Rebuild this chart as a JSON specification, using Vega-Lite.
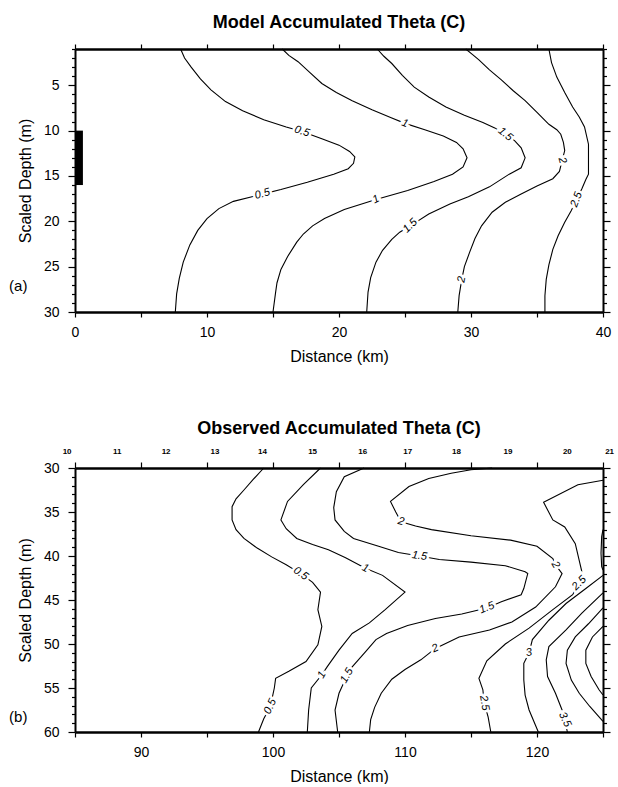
{
  "$schema": "https://vega.github.io/schema/vega-lite/v6.json",
  "padding": {"top": 14, "left": 9, "right": 8, "bottom": 0},
  "background": "white",
  "spacing": 56,
  "datasets": {
    "model": [
      {"c":"0.5","i":1,"km":8.0,"d":1},{"c":"0.5","i":2,"km":8.3,"d":2.0},{"c":"0.5","i":3,"km":8.8,"d":3.0},{"c":"0.5","i":4,"km":9.5,"d":4.3},{"c":"0.5","i":5,"km":10.3,"d":5.5},{"c":"0.5","i":6,"km":11.4,"d":6.8},{"c":"0.5","i":7,"km":12.7,"d":7.8},{"c":"0.5","i":8,"km":14.3,"d":8.8},{"c":"0.5","i":9,"km":16.0,"d":9.6},{"c":"0.5","i":10,"km":17.2,"d":10.1},{"c":"0.5","i":11,"km":18.7,"d":10.9},{"c":"0.5","i":12,"km":20.0,"d":11.6},{"c":"0.5","i":13,"km":20.8,"d":12.3},{"c":"0.5","i":14,"km":21.2,"d":12.9},{"c":"0.5","i":15,"km":21.1,"d":13.6},{"c":"0.5","i":16,"km":20.7,"d":14.2},{"c":"0.5","i":17,"km":19.6,"d":14.8},{"c":"0.5","i":18,"km":17.6,"d":15.7},{"c":"0.5","i":19,"km":15.6,"d":16.5},{"c":"0.5","i":20,"km":14.2,"d":17.0},{"c":"0.5","i":21,"km":12.0,"d":17.8},{"c":"0.5","i":22,"km":10.9,"d":18.6},{"c":"0.5","i":23,"km":10.0,"d":19.7},{"c":"0.5","i":24,"km":9.3,"d":21.0},{"c":"0.5","i":25,"km":8.7,"d":22.6},{"c":"0.5","i":26,"km":8.2,"d":24.5},{"c":"0.5","i":27,"km":7.9,"d":26.3},{"c":"0.5","i":28,"km":7.7,"d":28.0},{"c":"0.5","i":29,"km":7.6,"d":30},
      {"c":"1","i":1,"km":15.7,"d":1},{"c":"1","i":2,"km":16.2,"d":1.7},{"c":"1","i":3,"km":16.9,"d":2.4},{"c":"1","i":4,"km":17.8,"d":3.6},{"c":"1","i":5,"km":18.7,"d":4.8},{"c":"1","i":6,"km":19.8,"d":5.8},{"c":"1","i":7,"km":21.0,"d":6.7},{"c":"1","i":8,"km":22.5,"d":7.7},{"c":"1","i":9,"km":24.0,"d":8.6},{"c":"1","i":10,"km":25.0,"d":9.2},{"c":"1","i":11,"km":26.5,"d":9.9},{"c":"1","i":12,"km":27.9,"d":10.6},{"c":"1","i":13,"km":28.9,"d":11.3},{"c":"1","i":14,"km":29.4,"d":12.0},{"c":"1","i":15,"km":29.7,"d":13.0},{"c":"1","i":16,"km":29.4,"d":14.0},{"c":"1","i":17,"km":28.6,"d":14.8},{"c":"1","i":18,"km":27.2,"d":15.6},{"c":"1","i":19,"km":25.2,"d":16.6},{"c":"1","i":20,"km":22.8,"d":17.6},{"c":"1","i":21,"km":20.4,"d":18.7},{"c":"1","i":22,"km":18.9,"d":19.7},{"c":"1","i":23,"km":18.0,"d":20.5},{"c":"1","i":24,"km":17.3,"d":21.4},{"c":"1","i":25,"km":16.8,"d":22.3},{"c":"1","i":26,"km":16.1,"d":23.9},{"c":"1","i":27,"km":15.6,"d":25.3},{"c":"1","i":28,"km":15.3,"d":26.8},{"c":"1","i":29,"km":15.2,"d":27.8},{"c":"1","i":30,"km":15.0,"d":30},
      {"c":"1.5","i":1,"km":22.9,"d":1},{"c":"1.5","i":2,"km":23.4,"d":1.8},{"c":"1.5","i":3,"km":24.0,"d":2.6},{"c":"1.5","i":4,"km":24.8,"d":3.9},{"c":"1.5","i":5,"km":25.7,"d":5.2},{"c":"1.5","i":6,"km":26.8,"d":6.3},{"c":"1.5","i":7,"km":28.1,"d":7.4},{"c":"1.5","i":8,"km":29.5,"d":8.3},{"c":"1.5","i":9,"km":30.9,"d":9.1},{"c":"1.5","i":10,"km":31.8,"d":9.7},{"c":"1.5","i":11,"km":32.6,"d":10.4},{"c":"1.5","i":12,"km":33.3,"d":11.1},{"c":"1.5","i":13,"km":33.8,"d":11.9},{"c":"1.5","i":14,"km":34.1,"d":13.0},{"c":"1.5","i":15,"km":33.8,"d":14.1},{"c":"1.5","i":16,"km":32.9,"d":14.8},{"c":"1.5","i":17,"km":31.4,"d":16.2},{"c":"1.5","i":18,"km":29.8,"d":17.3},{"c":"1.5","i":19,"km":28.4,"d":18.1},{"c":"1.5","i":20,"km":26.8,"d":19.2},{"c":"1.5","i":21,"km":25.4,"d":20.5},{"c":"1.5","i":22,"km":24.6,"d":21.2},{"c":"1.5","i":23,"km":24.0,"d":22.0},{"c":"1.5","i":24,"km":23.3,"d":23.2},{"c":"1.5","i":25,"km":22.8,"d":24.5},{"c":"1.5","i":26,"km":22.4,"d":26.2},{"c":"1.5","i":27,"km":22.2,"d":27.8},{"c":"1.5","i":28,"km":22.1,"d":30},
      {"c":"2","i":1,"km":29.6,"d":1},{"c":"2","i":2,"km":30.1,"d":1.6},{"c":"2","i":3,"km":30.6,"d":2.2},{"c":"2","i":4,"km":31.4,"d":3.3},{"c":"2","i":5,"km":32.3,"d":4.4},{"c":"2","i":6,"km":33.2,"d":5.6},{"c":"2","i":7,"km":34.1,"d":6.7},{"c":"2","i":8,"km":35.0,"d":8.0},{"c":"2","i":9,"km":35.9,"d":9.3},{"c":"2","i":10,"km":36.5,"d":9.9},{"c":"2","i":11,"km":36.8,"d":10.4},{"c":"2","i":12,"km":37.0,"d":11.3},{"c":"2","i":13,"km":37.1,"d":12.2},{"c":"2","i":14,"km":36.9,"d":13.3},{"c":"2","i":15,"km":36.7,"d":14.5},{"c":"2","i":16,"km":36.2,"d":15.3},{"c":"2","i":17,"km":35.0,"d":16.1},{"c":"2","i":18,"km":33.8,"d":17.0},{"c":"2","i":19,"km":32.6,"d":17.9},{"c":"2","i":20,"km":31.6,"d":19.0},{"c":"2","i":21,"km":30.8,"d":20.5},{"c":"2","i":22,"km":30.3,"d":21.9},{"c":"2","i":23,"km":29.9,"d":23.4},{"c":"2","i":24,"km":29.5,"d":25.0},{"c":"2","i":25,"km":29.3,"d":26.4},{"c":"2","i":26,"km":29.1,"d":28.2},{"c":"2","i":27,"km":29.0,"d":30},
      {"c":"2.5","i":1,"km":35.9,"d":1},{"c":"2.5","i":2,"km":36.1,"d":2.5},{"c":"2.5","i":3,"km":36.5,"d":4.1},{"c":"2.5","i":4,"km":37.1,"d":5.8},{"c":"2.5","i":5,"km":37.7,"d":7.4},{"c":"2.5","i":6,"km":38.2,"d":8.5},{"c":"2.5","i":7,"km":38.6,"d":9.6},{"c":"2.5","i":8,"km":38.9,"d":11.5},{"c":"2.5","i":9,"km":38.9,"d":13.2},{"c":"2.5","i":10,"km":38.9,"d":14.8},{"c":"2.5","i":11,"km":38.7,"d":15.4},{"c":"2.5","i":12,"km":38.4,"d":16.4},{"c":"2.5","i":13,"km":38.0,"d":17.6},{"c":"2.5","i":14,"km":37.6,"d":18.8},{"c":"2.5","i":15,"km":37.1,"d":20.1},{"c":"2.5","i":16,"km":36.6,"d":21.6},{"c":"2.5","i":17,"km":36.2,"d":23.1},{"c":"2.5","i":18,"km":35.9,"d":24.8},{"c":"2.5","i":19,"km":35.7,"d":26.4},{"c":"2.5","i":20,"km":35.6,"d":28.2},{"c":"2.5","i":21,"km":35.6,"d":30}
    ],
    "model_labels": [
      {"label":"0.5","km":17.2,"d":10.1,"angle":18},
      {"label":"0.5","km":14.2,"d":17.0,"angle":-15},
      {"label":"1","km":25.0,"d":9.2,"angle":20},
      {"label":"1","km":22.8,"d":17.6,"angle":-25},
      {"label":"1.5","km":32.6,"d":10.4,"angle":40},
      {"label":"1.5","km":25.4,"d":20.5,"angle":-45},
      {"label":"2","km":36.9,"d":13.3,"angle":75},
      {"label":"2","km":29.3,"d":26.4,"angle":-80},
      {"label":"2.5","km":38.0,"d":17.6,"angle":-70}
    ],
    "source": [{"km0":0,"km1":0.6,"top":10,"bottom":16}],
    "observed": [
      {"c":"0.5","i":1,"km":99.3,"d":30},{"c":"0.5","i":2,"km":98.5,"d":31.3},{"c":"0.5","i":3,"km":97.8,"d":32.5},{"c":"0.5","i":4,"km":97.2,"d":33.5},{"c":"0.5","i":5,"km":96.9,"d":34.4},{"c":"0.5","i":6,"km":96.9,"d":35.9},{"c":"0.5","i":7,"km":97.2,"d":37.0},{"c":"0.5","i":8,"km":97.8,"d":38.0},{"c":"0.5","i":9,"km":98.8,"d":39.1},{"c":"0.5","i":10,"km":99.9,"d":40.1},{"c":"0.5","i":11,"km":101.0,"d":41.0},{"c":"0.5","i":12,"km":102.1,"d":42.0},{"c":"0.5","i":13,"km":103.0,"d":43.0},{"c":"0.5","i":14,"km":103.6,"d":44.1},{"c":"0.5","i":15,"km":103.4,"d":46.1},{"c":"0.5","i":16,"km":103.7,"d":48.0},{"c":"0.5","i":17,"km":103.4,"d":50.1},{"c":"0.5","i":18,"km":102.5,"d":52.0},{"c":"0.5","i":19,"km":101.2,"d":53.1},{"c":"0.5","i":20,"km":100.2,"d":53.9},{"c":"0.5","i":21,"km":100.1,"d":55.0},{"c":"0.5","i":22,"km":99.8,"d":57.1},{"c":"0.5","i":23,"km":99.3,"d":58.5},{"c":"0.5","i":24,"km":98.9,"d":60},
      {"c":"1","i":1,"km":103.6,"d":30},{"c":"1","i":2,"km":102.3,"d":31.9},{"c":"1","i":3,"km":101.1,"d":33.8},{"c":"1","i":4,"km":100.6,"d":35.9},{"c":"1","i":5,"km":101.0,"d":36.9},{"c":"1","i":6,"km":101.8,"d":38.0},{"c":"1","i":7,"km":103.0,"d":38.7},{"c":"1","i":8,"km":104.2,"d":39.3},{"c":"1","i":9,"km":105.5,"d":40.2},{"c":"1","i":10,"km":107.0,"d":41.4},{"c":"1","i":11,"km":108.3,"d":42.2},{"c":"1","i":12,"km":110.0,"d":44.1},{"c":"1","i":13,"km":108.5,"d":46.1},{"c":"1","i":14,"km":107.3,"d":47.6},{"c":"1","i":15,"km":106.0,"d":48.8},{"c":"1","i":16,"km":105.0,"d":50.7},{"c":"1","i":17,"km":104.1,"d":52.6},{"c":"1","i":18,"km":103.7,"d":53.5},{"c":"1","i":19,"km":102.9,"d":55.0},{"c":"1","i":20,"km":102.7,"d":57.5},{"c":"1","i":21,"km":102.6,"d":60},
      {"c":"1.5","i":1,"km":106.9,"d":30},{"c":"1.5","i":2,"km":105.4,"d":31.0},{"c":"1.5","i":3,"km":104.8,"d":32.7},{"c":"1.5","i":4,"km":104.6,"d":34.5},{"c":"1.5","i":5,"km":104.7,"d":35.9},{"c":"1.5","i":6,"km":105.4,"d":37.2},{"c":"1.5","i":7,"km":106.1,"d":38.0},{"c":"1.5","i":8,"km":108.0,"d":38.9},{"c":"1.5","i":9,"km":109.5,"d":39.6},{"c":"1.5","i":10,"km":111.1,"d":40.0},{"c":"1.5","i":11,"km":112.6,"d":40.4},{"c":"1.5","i":12,"km":115.0,"d":40.7},{"c":"1.5","i":13,"km":117.6,"d":41.1},{"c":"1.5","i":14,"km":119.1,"d":41.8},{"c":"1.5","i":15,"km":119.3,"d":42.0},{"c":"1.5","i":16,"km":119.0,"d":43.7},{"c":"1.5","i":17,"km":118.8,"d":44.4},{"c":"1.5","i":18,"km":117.3,"d":45.2},{"c":"1.5","i":19,"km":116.2,"d":45.9},{"c":"1.5","i":20,"km":114.3,"d":46.6},{"c":"1.5","i":21,"km":112.3,"d":47.1},{"c":"1.5","i":22,"km":110.2,"d":47.9},{"c":"1.5","i":23,"km":108.6,"d":48.8},{"c":"1.5","i":24,"km":107.8,"d":49.5},{"c":"1.5","i":25,"km":107.0,"d":50.9},{"c":"1.5","i":26,"km":106.0,"d":52.6},{"c":"1.5","i":27,"km":105.6,"d":53.6},{"c":"1.5","i":28,"km":105.0,"d":55.6},{"c":"1.5","i":29,"km":104.7,"d":57.5},{"c":"1.5","i":30,"km":104.9,"d":60},
      {"c":"2","i":1,"km":116.6,"d":30},{"c":"2","i":2,"km":115.0,"d":30.2},{"c":"2","i":3,"km":113.5,"d":30.6},{"c":"2","i":4,"km":111.8,"d":31.2},{"c":"2","i":5,"km":110.3,"d":32.1},{"c":"2","i":6,"km":108.9,"d":33.8},{"c":"2","i":7,"km":109.3,"d":35.0},{"c":"2","i":8,"km":109.7,"d":36.1},{"c":"2","i":9,"km":110.8,"d":36.6},{"c":"2","i":10,"km":112.0,"d":37.0},{"c":"2","i":11,"km":115.0,"d":37.7},{"c":"2","i":12,"km":118.0,"d":38.2},{"c":"2","i":13,"km":120.0,"d":38.9},{"c":"2","i":14,"km":121.2,"d":40.3},{"c":"2","i":15,"km":121.4,"d":41.0},{"c":"2","i":16,"km":121.9,"d":42.0},{"c":"2","i":17,"km":121.4,"d":43.5},{"c":"2","i":18,"km":119.9,"d":45.8},{"c":"2","i":19,"km":118.1,"d":47.5},{"c":"2","i":20,"km":116.4,"d":48.4},{"c":"2","i":21,"km":114.1,"d":49.2},{"c":"2","i":22,"km":112.3,"d":50.5},{"c":"2","i":23,"km":111.2,"d":51.8},{"c":"2","i":24,"km":110.0,"d":52.9},{"c":"2","i":25,"km":109.0,"d":54.0},{"c":"2","i":26,"km":108.2,"d":55.6},{"c":"2","i":27,"km":107.7,"d":57.2},{"c":"2","i":28,"km":107.4,"d":58.6},{"c":"2","i":29,"km":107.3,"d":60},
      {"c":"2.5a","i":1,"km":125,"d":31.4},{"c":"2.5a","i":2,"km":123.1,"d":31.9},{"c":"2.5a","i":3,"km":120.5,"d":33.9},{"c":"2.5a","i":4,"km":121.2,"d":35.9},{"c":"2.5a","i":5,"km":122.1,"d":36.7},{"c":"2.5a","i":6,"km":122.9,"d":38.6},{"c":"2.5a","i":7,"km":123.4,"d":41.8},{"c":"2.5a","i":8,"km":123.2,"d":43.1},{"c":"2.5a","i":9,"km":122.7,"d":44.4},{"c":"2.5a","i":10,"km":121.2,"d":46.1},{"c":"2.5a","i":11,"km":119.4,"d":48.2},{"c":"2.5a","i":12,"km":117.6,"d":50.0},{"c":"2.5a","i":13,"km":116.2,"d":51.9},{"c":"2.5a","i":14,"km":115.6,"d":53.9},{"c":"2.5a","i":15,"km":115.9,"d":55.2},{"c":"2.5a","i":16,"km":116.0,"d":56.7},{"c":"2.5a","i":17,"km":116.3,"d":58.3},{"c":"2.5a","i":18,"km":116.5,"d":60},
      {"c":"2.5b","i":1,"km":125,"d":37.0},{"c":"2.5b","i":2,"km":124.9,"d":37.8},{"c":"2.5b","i":3,"km":124.85,"d":39.7},{"c":"2.5b","i":4,"km":124.9,"d":41.2},{"c":"2.5b","i":5,"km":125,"d":41.6},
      {"c":"3","i":1,"km":125,"d":42.2},{"c":"3","i":2,"km":123.7,"d":43.7},{"c":"3","i":3,"km":122.2,"d":45.4},{"c":"3","i":4,"km":120.9,"d":47.3},{"c":"3","i":5,"km":119.65,"d":49.5},{"c":"3","i":6,"km":119.4,"d":51.0},{"c":"3","i":7,"km":119.0,"d":52.2},{"c":"3","i":8,"km":119.0,"d":54.1},{"c":"3","i":9,"km":119.1,"d":55.8},{"c":"3","i":10,"km":119.4,"d":57.5},{"c":"3","i":11,"km":120.1,"d":60},
      {"c":"3.5","i":1,"km":125,"d":44.2},{"c":"3.5","i":2,"km":123.4,"d":46.5},{"c":"3.5","i":3,"km":122.2,"d":48.4},{"c":"3.5","i":4,"km":120.9,"d":50.3},{"c":"3.5","i":5,"km":120.7,"d":51.8},{"c":"3.5","i":6,"km":120.8,"d":53.7},{"c":"3.5","i":7,"km":121.4,"d":55.6},{"c":"3.5","i":8,"km":121.9,"d":57.5},{"c":"3.5","i":9,"km":122.1,"d":58.6},{"c":"3.5","i":10,"km":122.3,"d":60},
      {"c":"4","i":1,"km":125,"d":45.9},{"c":"4","i":2,"km":123.9,"d":47.7},{"c":"4","i":3,"km":122.9,"d":49.2},{"c":"4","i":4,"km":122.3,"d":50.7},{"c":"4","i":5,"km":122.2,"d":52.2},{"c":"4","i":6,"km":122.6,"d":54.1},{"c":"4","i":7,"km":123.2,"d":55.6},{"c":"4","i":8,"km":124.0,"d":57.1},{"c":"4","i":9,"km":125,"d":58.8},
      {"c":"4.5","i":1,"km":125,"d":48.0},{"c":"4.5","i":2,"km":124.2,"d":49.2},{"c":"4.5","i":3,"km":123.7,"d":50.7},{"c":"4.5","i":4,"km":123.7,"d":52.2},{"c":"4.5","i":5,"km":124.1,"d":53.7},{"c":"4.5","i":6,"km":124.7,"d":55.2},{"c":"4.5","i":7,"km":125,"d":55.8}
    ],
    "observed_labels": [
      {"label":"0.5","km":102.1,"d":42.0,"angle":35},
      {"label":"0.5","km":99.8,"d":57.1,"angle":-65},
      {"label":"1","km":107.0,"d":41.4,"angle":25},
      {"label":"1","km":103.7,"d":53.5,"angle":-60},
      {"label":"1.5","km":111.1,"d":40.0,"angle":8},
      {"label":"1.5","km":116.2,"d":45.9,"angle":-22},
      {"label":"1.5","km":105.6,"d":53.6,"angle":-60},
      {"label":"2","km":109.7,"d":36.1,"angle":15},
      {"label":"2","km":121.4,"d":41.0,"angle":60},
      {"label":"2","km":112.3,"d":50.5,"angle":-25},
      {"label":"2.5","km":123.2,"d":43.1,"angle":-45},
      {"label":"2.5","km":116.0,"d":56.7,"angle":80},
      {"label":"3","km":119.4,"d":51.0,"angle":-10},
      {"label":"3.5","km":122.1,"d":58.6,"angle":65}
    ],
    "stations": [
      {"station":"10","km":84.4},{"station":"11","km":88.2},{"station":"12","km":91.9},{"station":"13","km":95.6},
      {"station":"14","km":99.2},{"station":"15","km":103.0},{"station":"16","km":106.8},{"station":"17","km":110.2},
      {"station":"18","km":113.9},{"station":"19","km":117.8},{"station":"20","km":122.3},{"station":"21","km":125.5}
    ]
  },
  "vconcat": [
    {
      "width": 528,
      "height": 263,
      "title": {"text": "Model Accumulated Theta (C)"},
      "layer": [
        {
          "data": {"name": "source"},
          "mark": {"type": "rect", "color": "black"},
          "encoding": {
            "x": {"field": "km0", "type": "quantitative", "axis": null},
            "x2": {"field": "km1"},
            "y": {"field": "top", "type": "quantitative", "axis": null},
            "y2": {"field": "bottom"}
          }
        },
        {
          "data": {"name": "model"},
          "mark": {"type": "line", "color": "black", "strokeWidth": 1.1},
          "encoding": {
            "x": {"field": "km", "type": "quantitative",
                  "scale": {"domain": [0, 40], "nice": false, "zero": false},
                  "axis": {"orient": "bottom", "title": "Distance (km)", "values": [0,5,10,15,20,25,30,35,40],
                           "labelExpr": "datum.value % 10 === 0 ? datum.label : ''", "tickSize": 5, "labelPadding": 8,
                           "titlePadding": 9, "domainWidth": 2.5, "labelFlush": false, "labelOverlap": false}},
            "y": {"field": "d", "type": "quantitative",
                  "scale": {"domain": [1, 30], "reverse": true, "nice": false, "zero": false},
                  "axis": {"orient": "left", "title": "Scaled Depth (m)",
                           "values": [1,2,3,4,5,6,7,8,9,10,11,12,13,14,15,16,17,18,19,20,21,22,23,24,25,26,27,28,29,30],
                           "labelExpr": "datum.value % 5 === 0 ? datum.label : ''",
                           "tickSize": {"condition": {"test": "datum.value % 5 === 0", "value": 7}, "value": 3.5},
                           "labelPadding": 9, "titlePadding": 10, "domainWidth": 2, "labelFlush": false, "labelOverlap": false}},
            "detail": {"field": "c"},
            "order": {"field": "i", "type": "quantitative"}
          }
        },
        {
          "data": {"name": "model_labels"},
          "mark": {"type": "text", "font": "Liberation Sans", "fontSize": 11, "fontStyle": "italic", "color": "white", "stroke": "white", "strokeWidth": 5, "baseline": "middle", "align": "center"},
          "encoding": {
            "x": {"field": "km", "type": "quantitative",
                  "axis": {"orient": "top", "title": null, "labels": false, "values": [0,5,10,15,20,25,30,35,40], "tickSize": 5, "domainWidth": 2.5}},
            "y": {"field": "d", "type": "quantitative",
                  "axis": {"orient": "right", "title": null, "labels": false,
                           "values": [1,2,3,4,5,6,7,8,9,10,11,12,13,14,15,16,17,18,19,20,21,22,23,24,25,26,27,28,29,30],
                           "tickSize": {"condition": {"test": "datum.value % 5 === 0", "value": 7}, "value": 3.5}, "domainWidth": 2}},
            "text": {"field": "label"},
            "angle": {"field": "angle", "type": "quantitative", "scale": null}
          }
        },
        {
          "data": {"name": "model_labels"},
          "mark": {"type": "text", "font": "Liberation Sans", "fontSize": 11, "fontStyle": "italic", "color": "black", "baseline": "middle", "align": "center"},
          "encoding": {
            "x": {"field": "km", "type": "quantitative", "axis": null},
            "y": {"field": "d", "type": "quantitative", "axis": null},
            "text": {"field": "label"},
            "angle": {"field": "angle", "type": "quantitative", "scale": null}
          }
        },
        {
          "data": {"values": [{"panel": "(a)"}]},
          "mark": {"type": "text", "font": "Liberation Sans", "fontSize": 15, "color": "black", "baseline": "middle", "align": "center"},
          "encoding": {
            "x": {"datum": -4.3, "type": "quantitative", "axis": null},
            "y": {"datum": 27.1, "type": "quantitative", "axis": null},
            "text": {"field": "panel"}
          }
        }
      ],
      "resolve": {"axis": {"x": "independent", "y": "independent"}}
    },
    {
      "width": 528,
      "height": 264,
      "title": {"text": "Observed Accumulated Theta (C)"},
      "layer": [
        {
          "data": {"name": "observed"},
          "mark": {"type": "line", "color": "black", "strokeWidth": 1.1},
          "encoding": {
            "x": {"field": "km", "type": "quantitative",
                  "scale": {"domain": [85, 125], "nice": false, "zero": false},
                  "axis": {"orient": "bottom", "title": "Distance (km)", "values": [85,90,95,100,105,110,115,120,125],
                           "labelExpr": "datum.value % 10 === 0 ? datum.label : ''", "tickSize": 5, "labelPadding": 8,
                           "titlePadding": 9, "domainWidth": 2.5, "labelFlush": false, "labelOverlap": false}},
            "y": {"field": "d", "type": "quantitative",
                  "scale": {"domain": [30, 60], "reverse": true, "nice": false, "zero": false},
                  "axis": {"orient": "left", "title": "Scaled Depth (m)",
                           "values": [30,31,32,33,34,35,36,37,38,39,40,41,42,43,44,45,46,47,48,49,50,51,52,53,54,55,56,57,58,59,60],
                           "labelExpr": "datum.value % 5 === 0 ? datum.label : ''",
                           "tickSize": {"condition": {"test": "datum.value % 5 === 0", "value": 7}, "value": 3.5},
                           "labelPadding": 9, "titlePadding": 10, "domainWidth": 2, "labelFlush": false, "labelOverlap": false}},
            "detail": {"field": "c"},
            "order": {"field": "i", "type": "quantitative"}
          }
        },
        {
          "data": {"name": "observed_labels"},
          "mark": {"type": "text", "font": "Liberation Sans", "fontSize": 11, "fontStyle": "italic", "color": "white", "stroke": "white", "strokeWidth": 5, "baseline": "middle", "align": "center"},
          "encoding": {
            "x": {"field": "km", "type": "quantitative",
                  "axis": {"orient": "top", "title": null, "labels": false, "values": [85,90,95,100,105,110,115,120,125], "tickSize": 6, "domainWidth": 2.5}},
            "y": {"field": "d", "type": "quantitative",
                  "axis": {"orient": "right", "title": null, "labels": false,
                           "values": [30,31,32,33,34,35,36,37,38,39,40,41,42,43,44,45,46,47,48,49,50,51,52,53,54,55,56,57,58,59,60],
                           "tickSize": {"condition": {"test": "datum.value % 5 === 0", "value": 7}, "value": 3.5}, "domainWidth": 2}},
            "text": {"field": "label"},
            "angle": {"field": "angle", "type": "quantitative", "scale": null}
          }
        },
        {
          "data": {"name": "observed_labels"},
          "mark": {"type": "text", "font": "Liberation Sans", "fontSize": 11, "fontStyle": "italic", "color": "black", "baseline": "middle", "align": "center"},
          "encoding": {
            "x": {"field": "km", "type": "quantitative", "axis": null},
            "y": {"field": "d", "type": "quantitative", "axis": null},
            "text": {"field": "label"},
            "angle": {"field": "angle", "type": "quantitative", "scale": null}
          }
        },
        {
          "data": {"name": "stations"},
          "mark": {"type": "text", "font": "Liberation Sans", "fontSize": 8, "fontWeight": "bold", "color": "black", "baseline": "middle", "align": "center"},
          "encoding": {
            "x": {"field": "km", "type": "quantitative", "axis": null},
            "y": {"datum": 28.2, "type": "quantitative", "axis": null},
            "text": {"field": "station"}
          }
        },
        {
          "data": {"values": [{"panel": "(b)"}]},
          "mark": {"type": "text", "font": "Liberation Sans", "fontSize": 15, "color": "black", "baseline": "middle", "align": "center"},
          "encoding": {
            "x": {"datum": 80.7, "type": "quantitative", "axis": null},
            "y": {"datum": 58.3, "type": "quantitative", "axis": null},
            "text": {"field": "panel"}
          }
        }
      ],
      "resolve": {"axis": {"x": "independent", "y": "independent"}}
    }
  ],
  "config": {
    "view": {"stroke": null},
    "font": "Liberation Sans",
    "axis": {
      "grid": false,
      "labelFont": "Liberation Sans", "labelFontSize": 14, "labelColor": "black",
      "titleFont": "Liberation Sans", "titleFontSize": 16, "titleFontWeight": "normal", "titleColor": "black",
      "domainColor": "black", "tickColor": "black", "tickWidth": 1.2
    },
    "title": {"font": "Liberation Sans", "fontSize": 18, "fontWeight": "bold", "color": "black", "anchor": "middle", "frame": "group", "offset": 10}
  }
}
